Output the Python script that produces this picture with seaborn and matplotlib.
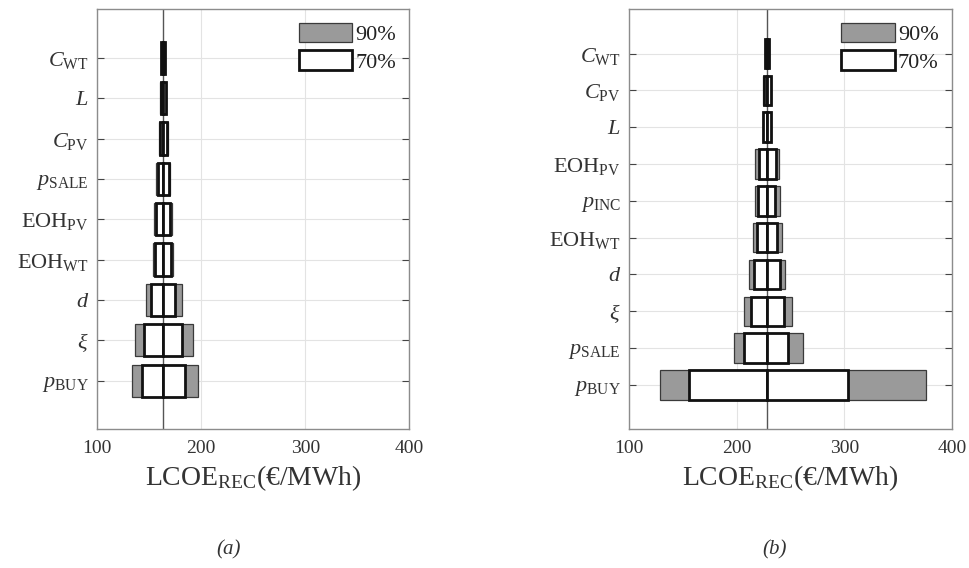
import matplotlib
matplotlib.use("Agg")
import matplotlib.pyplot as plt
import seaborn as sns
from matplotlib.patches import Patch

# ---- data: tornado sensitivity of LCOE_REC (€/MWh) ----
# panel (a)
cats_a = [r"$C_{\mathrm{WT}}$", r"$L$", r"$C_{\mathrm{PV}}$", r"$p_{\mathrm{SALE}}$",
          r"$\mathrm{EOH}_{\mathrm{PV}}$", r"$\mathrm{EOH}_{\mathrm{WT}}$", r"$d$",
          r"$\xi$", r"$p_{\mathrm{BUY}}$"]
base_a = 163.2
lo90_a = [160.9, 160.3, 159.3, 156.7, 154.8, 153.6, 146.8, 136.5, 133.7]
hi90_a = [165.3, 166.0, 167.6, 169.9, 171.5, 173.1, 181.4, 192.3, 196.5]
lo70_a = [161.3, 160.8, 160.0, 158.0, 156.2, 155.2, 151.9, 144.9, 143.3]
hi70_a = [165.0, 165.6, 167.0, 168.9, 170.2, 170.9, 174.7, 181.7, 184.3]

# panel (b)
cats_b = [r"$C_{\mathrm{WT}}$", r"$C_{\mathrm{PV}}$", r"$L$", r"$\mathrm{EOH}_{\mathrm{PV}}$",
          r"$p_{\mathrm{INC}}$", r"$\mathrm{EOH}_{\mathrm{WT}}$", r"$d$", r"$\xi$",
          r"$p_{\mathrm{SALE}}$", r"$p_{\mathrm{BUY}}$"]
base_b = 228.2
lo90_b = [225.9, 224.4, 224.1, 217.1, 216.7, 215.2, 211.1, 206.5, 197.2, 128.5]
hi90_b = [230.0, 231.9, 231.9, 239.4, 239.9, 242.4, 245.2, 251.1, 261.3, 376.1]
lo70_b = [226.3, 225.0, 224.7, 220.4, 220.1, 218.6, 216.1, 213.4, 207.1, 155.4]
hi70_b = [229.7, 231.4, 231.4, 236.0, 235.9, 236.9, 239.9, 243.4, 247.7, 303.7]

xticks = [100, 200, 300, 400]
legend_labels = ["90%", "70%"]
panel_labels = ["(a)", "(b)"]
xlabel = r"$\mathrm{LCOE}_{\mathrm{REC}}$(€/MWh)"

sns.set_theme(style="white")
plt.rcParams["font.family"] = ["Liberation Serif", "DejaVu Serif"]
plt.rcParams["mathtext.fontset"] = "custom"
plt.rcParams["mathtext.rm"] = "Liberation Serif"
plt.rcParams["mathtext.it"] = "Liberation Serif:italic"
plt.rcParams["mathtext.bf"] = "Liberation Serif:bold"

GRAY = "#9a9a9a"
TEXT = "#333333"
SPINE = "#8c8c8c"

fig = plt.figure(figsize=(9.69, 5.68), dpi=100)
ax_a = fig.add_axes([0.1004, 0.2445, 0.3220, 0.7390])
ax_b = fig.add_axes([0.6494, 0.2445, 0.3330, 0.7390])


def tornado(ax, cats, base, lo90, hi90, lo70, hi70, tag, tag_x):
    n = len(cats)
    y = list(range(n))
    h = 0.8
    # outer (90%) interval, drawn as two halves from the base value
    ax.barh(y, [v - base for v in lo90], left=base, height=h, color=GRAY,
            edgecolor="#3a3a3a", linewidth=0.9, zorder=2)
    ax.barh(y, [v - base for v in hi90], left=base, height=h, color=GRAY,
            edgecolor="#3a3a3a", linewidth=0.9, zorder=2)
    # inner (70%) interval
    ax.barh(y, [v - base for v in lo70], left=base, height=h, color="white",
            edgecolor="#111111", linewidth=2.0, zorder=3)
    ax.barh(y, [v - base for v in hi70], left=base, height=h, color="white",
            edgecolor="#111111", linewidth=2.0, zorder=3)
    ax.axvline(base, color="#555555", linewidth=1.0, zorder=1.5)

    ax.set_xlim(100, 400)
    ax.set_ylim(n - 1 + 1.2, -1.2)
    ax.set_xticks(xticks)
    ax.set_xticklabels([str(t) for t in xticks], fontsize=14, color=TEXT)
    ax.set_yticks(y)
    ax.set_yticklabels(cats, fontsize=16, color=TEXT)
    ax.grid(True, color="#e3e3e3", linewidth=0.8, zorder=0)
    ax.set_axisbelow(True)
    for s in ax.spines.values():
        s.set_color(SPINE)
        s.set_linewidth(1.0)
    ax.tick_params(axis="y", direction="in", length=5, width=0.8, color="#444444",
                   left=True, right=True, pad=6)
    ax.tick_params(axis="x", direction="in", length=0, pad=8)
    ax.set_xlabel(xlabel, fontsize=20, color=TEXT, labelpad=4)

    handles = [Patch(facecolor=GRAY, edgecolor="#3a3a3a", linewidth=0.9),
               Patch(facecolor="white", edgecolor="#111111", linewidth=2.0)]
    leg = ax.legend(handles, legend_labels, loc="upper right", frameon=False,
                    fontsize=16, handlelength=2.4, handleheight=0.95,
                    handletextpad=0.15, labelspacing=0.25,
                    borderaxespad=0.3, borderpad=0.3)
    for t in leg.get_texts():
        t.set_color("#222222")
    # panel tag under the axes
    ax.text(tag_x, -0.287, tag, transform=ax.transAxes, ha="center", va="center",
            fontsize=15, style="italic", color=TEXT)


tornado(ax_a, cats_a, base_a, lo90_a, hi90_a, lo70_a, hi70_a, panel_labels[0], 0.42)
tornado(ax_b, cats_b, base_b, lo90_b, hi90_b, lo70_b, hi70_b, panel_labels[1], 0.45)

fig.savefig("out.png", dpi=100, facecolor="white")
